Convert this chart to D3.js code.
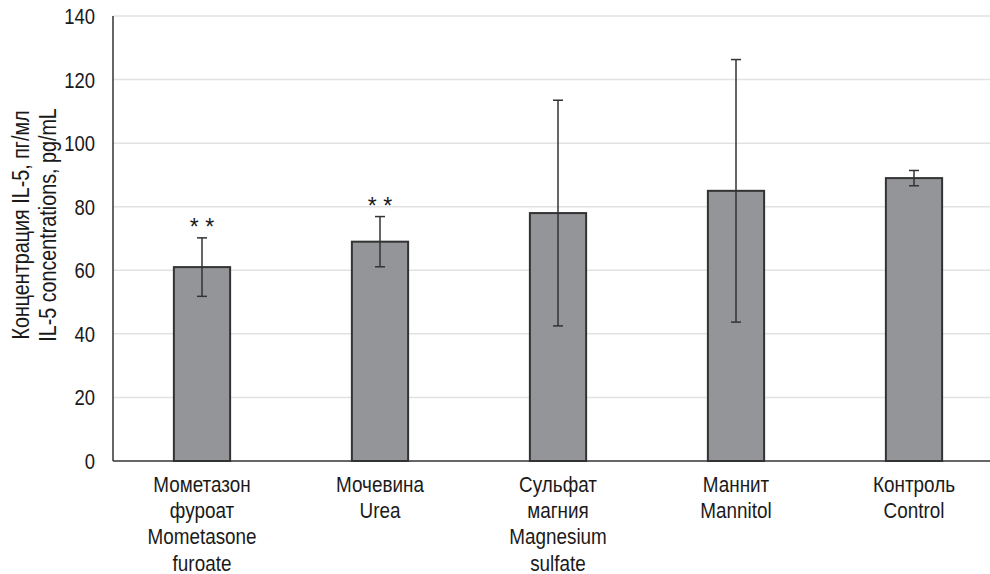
<!DOCTYPE html>
<html>
<head>
<meta charset="utf-8">
<script src="https://cdn.jsdelivr.net/npm/d3@7"></script>
<style>
  html, body { margin: 0; padding: 0; background: #fff; }
  svg text { font-family: "Liberation Sans", Arial, sans-serif; fill: #1a1a1a; }
</style>
</head>
<body>
<svg id="chart" width="990" height="574"></svg>
<script>
// IL-5 concentration per treatment group (mean ± error)
const categories = [
  ["Мометазон", "фуроат", "Mometasone", "furoate"],
  ["Мочевина", "Urea"],
  ["Сульфат", "магния", "Magnesium", "sulfate"],
  ["Маннит", "Mannitol"],
  ["Контроль", "Control"]
];
const means = [61, 69, 78, 85, 89];
const errors = [9.2, 7.9, 35.5, 41.3, 2.4];
const significance = ["* *", "* *", "", "", ""];
const yTicks = [0, 20, 40, 60, 80, 100, 120, 140];
const yTitle = ["Концентрация IL-5, пг/мл", "IL-5 concentrations, pg/mL"];

const svg = d3.select("#chart");
const plotLeft = 113, plotRight = 1003, plotTop = 16, plotBottom = 461;
const narrow = 0.84; // horizontal squeeze giving a narrow sans face

const x = d3.scaleBand().domain(d3.range(categories.length)).range([plotLeft, plotRight]).padding(0);
const y = d3.scaleLinear().domain([0, 140]).range([plotBottom, plotTop]);
const barW = x.bandwidth() * 0.316;
const cxOf = i => x(i) + x.bandwidth() / 2;

// horizontal gridlines
svg.append("g").selectAll("line").data(yTicks.filter(d => d > 0)).join("line")
  .attr("x1", plotLeft).attr("x2", 990)
  .attr("y1", d => y(d)).attr("y2", d => y(d))
  .attr("stroke", "#e2e2e2").attr("stroke-width", 1.5);

// y tick labels
svg.append("g").selectAll("text").data(yTicks).join("text")
  .attr("transform", d => `translate(95,${y(d)}) scale(${narrow},1)`)
  .attr("dy", "0.36em")
  .attr("text-anchor", "end").attr("font-size", 22)
  .text(d => d);

// bars
svg.append("g").selectAll("rect").data(means).join("rect")
  .attr("x", (d, i) => cxOf(i) - barW / 2)
  .attr("y", d => y(d))
  .attr("width", barW)
  .attr("height", d => y(0) - y(d))
  .attr("fill", "#949599")
  .attr("stroke", "#333333").attr("stroke-width", 2);

// error bars
const eb = svg.append("g").attr("stroke", "#333333").attr("stroke-width", 1.5);
means.forEach((m, i) => {
  const cx = cxOf(i);
  const hi = y(m + errors[i]), lo = y(m - errors[i]);
  eb.append("line").attr("x1", cx).attr("x2", cx).attr("y1", hi).attr("y2", lo);
  eb.append("line").attr("x1", cx - 5).attr("x2", cx + 5).attr("y1", hi).attr("y2", hi);
  eb.append("line").attr("x1", cx - 5).attr("x2", cx + 5).attr("y1", lo).attr("y2", lo);
});

// significance marks
svg.append("g").selectAll("text").data(significance).join("text")
  .attr("transform", (d, i) => `translate(${cxOf(i)},${y(means[i] + errors[i]) - 20})`)
  .attr("dy", "0.75em")
  .attr("text-anchor", "middle").attr("font-size", 23)
  .text(d => d);

// axis lines
svg.append("line").attr("x1", plotLeft).attr("x2", 990).attr("y1", plotBottom).attr("y2", plotBottom)
  .attr("stroke", "#333333").attr("stroke-width", 1.5);
svg.append("line").attr("x1", plotLeft).attr("x2", plotLeft).attr("y1", plotTop).attr("y2", plotBottom)
  .attr("stroke", "#333333").attr("stroke-width", 1.5);

// category labels
const cat = svg.append("g").selectAll("text").data(categories).join("text")
  .attr("text-anchor", "middle").attr("font-size", 22.5)
  .attr("transform", (d, i) => `translate(${cxOf(i)},492) scale(${narrow},1)`);
cat.each(function(lines) {
  d3.select(this).selectAll("tspan").data(lines).join("tspan")
    .attr("x", 0)
    .attr("y", (d, j) => j * 26.2)
    .text(d => d);
});

// y-axis title
const t = svg.append("text")
  .attr("transform", `translate(0,225) rotate(-90) scale(${narrow},1)`)
  .attr("text-anchor", "middle").attr("font-size", 23.5);
t.selectAll("tspan").data(yTitle).join("tspan")
  .attr("x", 0).attr("y", (d, j) => 29 + j * 27)
  .text(d => d);
</script>
</body>
</html>
